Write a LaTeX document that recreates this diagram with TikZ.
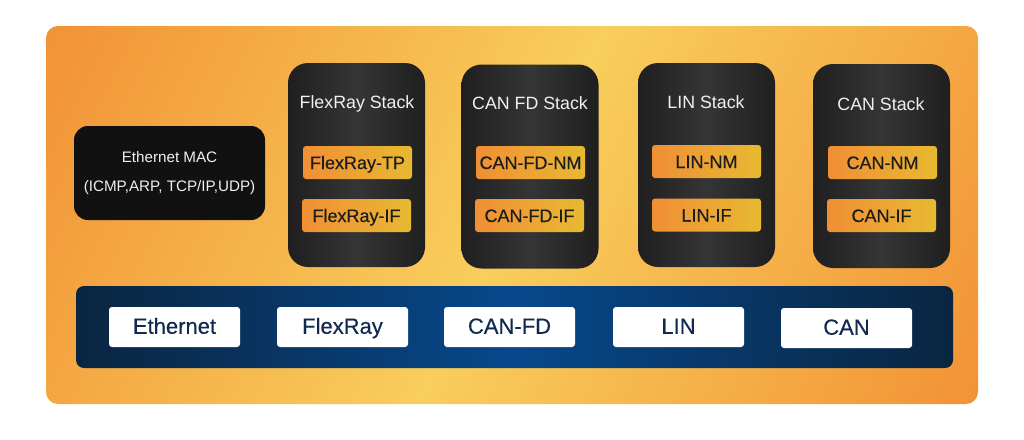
\documentclass[tikz,border=0pt]{standalone}
\usepackage{fontspec}
\setmainfont{Liberation Sans}
\newfontfamily\medfont[FakeBold=0.25]{Liberation Sans}
\definecolor{bgorange}{HTML}{F29236}
\definecolor{bgyellow}{HTML}{F8CE5C}
\definecolor{stackedge}{HTML}{1F1F1F}
\definecolor{stackmid}{HTML}{353535}
\definecolor{macblack}{HTML}{111111}
\definecolor{subleft}{HTML}{F08F35}
\definecolor{subright}{HTML}{E8B932}
\definecolor{subtext}{HTML}{1C1C1C}
\definecolor{busedge}{HTML}{0A2540}
\definecolor{busmid}{HTML}{07488C}
\definecolor{bustext}{HTML}{10294F}
\definecolor{stacktext}{HTML}{F0F0F0}
\tikzset{
  x=1pt,y=-1pt,
  stackbox/.style={rectangle,rounded corners=20pt,inner sep=0pt,minimum width=137pt,minimum height=204pt,
    left color=stackedge,right color=stackedge,middle color=stackmid},
  stacklabel/.style={text=stacktext,font=\fontsize{17.8}{20}\selectfont,inner sep=0pt,text height=13pt,text depth=1.5pt},
  subbox/.style={rectangle,rounded corners=3pt,inner sep=0pt,minimum width=109pt,minimum height=33pt,
    left color=subleft,right color=subright,text=subtext,font=\medfont\fontsize{18}{20}\selectfont,text height=13pt,text depth=0pt},
  macbox/.style={rectangle,rounded corners=14pt,fill=macblack,inner sep=0pt,minimum width=191pt,minimum height=94pt,
    text=stacktext,align=center,font=\fontsize{15.2}{29}\selectfont},
  busbox/.style={rectangle,rounded corners=8pt,inner sep=0pt,minimum width=877pt,minimum height=82pt,
    left color=busedge,right color=busedge,middle color=busmid},
  portbox/.style={rectangle,rounded corners=3pt,fill=white,inner sep=0pt,minimum width=131pt,minimum height=40pt,
    text=bustext,font=\medfont\fontsize{22}{24}\selectfont,text height=16pt,text depth=2.5pt},
}
\begin{document}
\begin{tikzpicture}
\useasboundingbox (0,0) rectangle (1024,439);
\fill[white] (0,0) rectangle (1024,439);
\begin{scope}
  \clip[rounded corners=12pt] (46,26) rectangle (978,404);
  \begin{scope}[transform canvas={shift={(512pt,-215pt)},rotate=-26.6}]
    \shade[left color=bgorange,right color=bgorange,middle color=bgyellow]
      (-500,-600) rectangle (500,600);
  \end{scope}
\end{scope}
\node[macbox] (mac) at (169.5,173) {Ethernet MAC\\(ICMP,ARP, TCP/IP,UDP)};
\node[stackbox] (s1) at (356.5,165) {};
\node[stackbox] (s2) at (530,166.5) {};
\node[stackbox] (s3) at (706.5,165) {};
\node[stackbox] (s4) at (881.5,166) {};
\node[stacklabel] (l1) at (357,102.5) {FlexRay Stack};
\node[stacklabel] (l2) at (530,103.5) {CAN FD Stack};
\node[stacklabel] (l3) at (706,102.5) {LIN Stack};
\node[stacklabel] (l4) at (881,104.5) {CAN Stack};
\node[subbox] (a1) at (357.5,162.5) {FlexRay-TP};
\node[subbox] (a2) at (356.5,215.5) {FlexRay-IF\hspace{4pt}};
\node[subbox] (b1) at (530.5,162.5) {CAN-FD-NM};
\node[subbox] (b2) at (529.5,215.5) {CAN-FD-IF};
\node[subbox] (c1) at (706.5,161.5) {LIN-NM};
\node[subbox] (c2) at (706.5,215) {LIN-IF};
\node[subbox] (d1) at (882.5,162.5) {CAN-NM};
\node[subbox] (d2) at (881.5,215.5) {CAN-IF};
\node[busbox] (bus) at (514.5,327) {};
\node[portbox] (p1) at (174.5,327) {Ethernet};
\node[portbox] (p2) at (342.5,327) {FlexRay};
\node[portbox] (p3) at (509.5,327) {CAN-FD};
\node[portbox] (p4) at (678.5,327) {LIN};
\node[portbox] (p5) at (846.5,328) {CAN};
\end{tikzpicture}
\end{document}
